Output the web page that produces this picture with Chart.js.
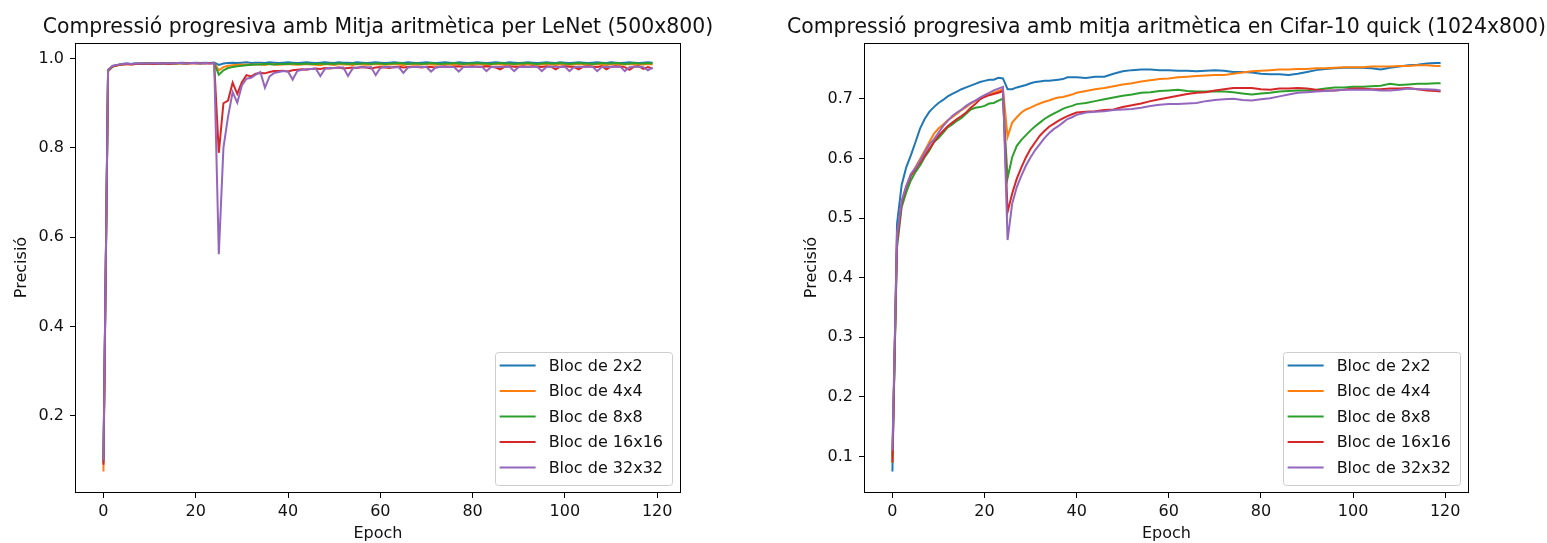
<!DOCTYPE html>
<html>
<head>
<meta charset="utf-8">
<script src="https://cdn.jsdelivr.net/npm/chart.js@4.4.1/dist/chart.umd.min.js"></script>
<style>
  body { margin: 0; background: #fff; }
  #left { position: absolute; left: 0; top: 0; }
  #right { position: absolute; left: 773px; top: 0; }
</style>
</head>
<body>
<canvas id="left" width="773" height="543"></canvas>
<canvas id="right" width="774" height="543"></canvas>
<script>
// series names and colours (matplotlib tab10)
var blockLabels = ['Bloc de 2x2', 'Bloc de 4x4', 'Bloc de 8x8', 'Bloc de 16x16', 'Bloc de 32x32'];
var blockColors = ['#1f77b4', '#ff7f0e', '#2ca02c', '#d62728', '#9467bd'];

var xTicks = [0, 20, 40, 60, 80, 100, 120];
var lenetYTicks = [0.2, 0.4, 0.6, 0.8, 1.0];
var cifarYTicks = [0.1, 0.2, 0.3, 0.4, 0.5, 0.6, 0.7];

// ---- LeNet, one value per epoch 0..119 ----
var lenetEpochs = [];
for (var e = 0; e < 120; e++) lenetEpochs.push(e);

var lenet2x2 = [
  0.095, 0.974, 0.983, 0.986, 0.988, 0.989, 0.988, 0.989, 0.989, 0.990,
  0.989, 0.990, 0.989, 0.990, 0.990, 0.989, 0.990, 0.991, 0.990, 0.990,
  0.991, 0.990, 0.991, 0.990, 0.991, 0.986, 0.989, 0.990, 0.991, 0.990,
  0.991, 0.992, 0.990, 0.991, 0.991, 0.990, 0.992, 0.991, 0.990, 0.991,
  0.992, 0.991, 0.990, 0.991, 0.992, 0.991, 0.990, 0.991, 0.992, 0.991,
  0.990, 0.992, 0.991, 0.991, 0.990, 0.992, 0.991, 0.990, 0.991, 0.992,
  0.991, 0.990, 0.991, 0.992, 0.991, 0.990, 0.992, 0.991, 0.990, 0.991,
  0.992, 0.991, 0.990, 0.991, 0.992, 0.991, 0.990, 0.992, 0.991, 0.990,
  0.991, 0.992, 0.991, 0.990, 0.991, 0.992, 0.991, 0.990, 0.992, 0.991,
  0.990, 0.991, 0.992, 0.991, 0.990, 0.991, 0.992, 0.991, 0.990, 0.992,
  0.991, 0.990, 0.991, 0.992, 0.991, 0.990, 0.991, 0.992, 0.991, 0.990,
  0.992, 0.991, 0.990, 0.991, 0.992, 0.991, 0.990, 0.991, 0.992, 0.991
];
var lenet4x4 = [
  0.075, 0.972, 0.982, 0.985, 0.987, 0.988, 0.987, 0.988, 0.988, 0.989,
  0.988, 0.989, 0.988, 0.989, 0.989, 0.988, 0.989, 0.990, 0.989, 0.989,
  0.990, 0.989, 0.990, 0.989, 0.990, 0.974, 0.981, 0.984, 0.985, 0.986,
  0.986, 0.987, 0.986, 0.987, 0.987, 0.986, 0.988, 0.987, 0.986, 0.987,
  0.988, 0.987, 0.986, 0.987, 0.988, 0.987, 0.986, 0.985, 0.988, 0.987,
  0.986, 0.988, 0.987, 0.987, 0.986, 0.988, 0.987, 0.986, 0.987, 0.988,
  0.987, 0.986, 0.987, 0.988, 0.987, 0.985, 0.988, 0.987, 0.986, 0.987,
  0.988, 0.987, 0.986, 0.987, 0.988, 0.987, 0.986, 0.988, 0.987, 0.986,
  0.987, 0.988, 0.987, 0.985, 0.987, 0.988, 0.987, 0.986, 0.988, 0.987,
  0.986, 0.987, 0.988, 0.987, 0.986, 0.987, 0.988, 0.987, 0.985, 0.988,
  0.987, 0.986, 0.987, 0.988, 0.987, 0.986, 0.987, 0.988, 0.986, 0.985,
  0.988, 0.987, 0.986, 0.987, 0.988, 0.987, 0.986, 0.987, 0.988, 0.987
];
var lenet8x8 = [
  0.100, 0.973, 0.982, 0.985, 0.987, 0.988, 0.988, 0.989, 0.988, 0.989,
  0.989, 0.989, 0.988, 0.989, 0.990, 0.989, 0.989, 0.990, 0.989, 0.990,
  0.990, 0.989, 0.990, 0.990, 0.990, 0.964, 0.974, 0.979, 0.981, 0.983,
  0.984, 0.985, 0.986, 0.987, 0.987, 0.988, 0.988, 0.987, 0.988, 0.988,
  0.988, 0.989, 0.988, 0.988, 0.989, 0.988, 0.988, 0.989, 0.988, 0.989,
  0.988, 0.989, 0.989, 0.988, 0.989, 0.988, 0.989, 0.989, 0.988, 0.989,
  0.989, 0.988, 0.989, 0.989, 0.990, 0.989, 0.988, 0.989, 0.989, 0.988,
  0.989, 0.990, 0.989, 0.988, 0.989, 0.989, 0.990, 0.989, 0.988, 0.989,
  0.989, 0.990, 0.989, 0.989, 0.988, 0.989, 0.990, 0.989, 0.989, 0.988,
  0.989, 0.989, 0.990, 0.989, 0.988, 0.989, 0.990, 0.989, 0.989, 0.990,
  0.989, 0.988, 0.989, 0.990, 0.989, 0.989, 0.988, 0.989, 0.990, 0.989,
  0.989, 0.990, 0.989, 0.988, 0.989, 0.990, 0.989, 0.989, 0.990, 0.989
];
var lenet16x16 = [
  0.090, 0.974, 0.983, 0.985, 0.987, 0.988, 0.987, 0.988, 0.989, 0.988,
  0.989, 0.988, 0.989, 0.989, 0.988, 0.989, 0.990, 0.989, 0.989, 0.990,
  0.989, 0.990, 0.989, 0.990, 0.989, 0.789, 0.900, 0.906, 0.946, 0.921,
  0.947, 0.963, 0.960, 0.966, 0.968, 0.967, 0.970, 0.972, 0.972, 0.973,
  0.971, 0.974, 0.975, 0.976, 0.975, 0.977, 0.978, 0.977, 0.979, 0.978,
  0.979, 0.980, 0.978, 0.979, 0.980, 0.979, 0.981, 0.980, 0.978, 0.980,
  0.981, 0.980, 0.979, 0.981, 0.982, 0.980, 0.981, 0.982, 0.981, 0.980,
  0.982, 0.981, 0.980, 0.982, 0.983, 0.981, 0.982, 0.983, 0.982, 0.981,
  0.983, 0.982, 0.981, 0.983, 0.982, 0.980, 0.976, 0.982, 0.983, 0.982,
  0.981, 0.983, 0.982, 0.983, 0.982, 0.981, 0.983, 0.982, 0.976, 0.982,
  0.983, 0.982, 0.981, 0.976, 0.982, 0.983, 0.982, 0.981, 0.983, 0.976,
  0.982, 0.983, 0.982, 0.981, 0.975, 0.982, 0.983, 0.977, 0.981, 0.978
];
var lenet32x32 = [
  0.100, 0.975, 0.984, 0.986, 0.988, 0.989, 0.988, 0.989, 0.989, 0.989,
  0.989, 0.990, 0.989, 0.989, 0.990, 0.989, 0.990, 0.990, 0.989, 0.990,
  0.990, 0.989, 0.990, 0.989, 0.990, 0.562, 0.800, 0.870, 0.925, 0.901,
  0.940, 0.955, 0.957, 0.964, 0.970, 0.935, 0.960, 0.968, 0.970, 0.972,
  0.971, 0.953, 0.972, 0.975, 0.976, 0.977, 0.978, 0.961, 0.977, 0.979,
  0.979, 0.980, 0.980, 0.961, 0.978, 0.980, 0.981, 0.980, 0.981, 0.963,
  0.979, 0.981, 0.981, 0.980, 0.981, 0.968, 0.980, 0.981, 0.982, 0.981,
  0.981, 0.971, 0.980, 0.982, 0.981, 0.982, 0.981, 0.971, 0.981, 0.982,
  0.981, 0.982, 0.982, 0.972, 0.981, 0.982, 0.981, 0.982, 0.982, 0.972,
  0.981, 0.982, 0.981, 0.982, 0.982, 0.972, 0.981, 0.982, 0.982, 0.981,
  0.982, 0.972, 0.981, 0.982, 0.981, 0.982, 0.982, 0.972, 0.981, 0.982,
  0.981, 0.982, 0.982, 0.972, 0.981, 0.982, 0.982, 0.981, 0.974, 0.980
];

// ---- Cifar-10 quick, read every epoch up to 40, then every 2 ----
var cifarEpochs = [
  0, 1, 2, 3, 4, 5, 6, 7, 8, 9,
  10, 11, 12, 13, 14, 15, 16, 17, 18, 19,
  20, 21, 22, 23, 24, 25, 26, 27, 28, 29,
  30, 31, 32, 33, 34, 35, 36, 37, 38, 39,
  40,
  42, 44, 46, 48, 50, 52, 54, 56, 58, 60,
  62, 64, 66, 68, 70, 72, 74, 76, 78, 80,
  82, 84, 86, 88, 90, 92, 94, 96, 98, 100,
  102, 104, 106, 108, 110, 112, 114, 116, 118,
  119
];
var cifar2x2 = [
  0.075, 0.490, 0.555, 0.585, 0.605, 0.627, 0.650, 0.666, 0.678, 0.686,
  0.693, 0.698, 0.704, 0.708, 0.712, 0.716, 0.719, 0.722, 0.725, 0.728,
  0.730, 0.732, 0.732, 0.735, 0.734, 0.716, 0.716, 0.719, 0.721, 0.723,
  0.726, 0.728, 0.729, 0.730, 0.730, 0.731, 0.732, 0.733, 0.736, 0.736,
  0.736,
  0.735, 0.737, 0.737, 0.742, 0.746, 0.748, 0.749, 0.749, 0.748, 0.748,
  0.747, 0.747, 0.746, 0.747, 0.748, 0.747, 0.745, 0.745, 0.744, 0.742,
  0.741, 0.741, 0.740, 0.742, 0.745, 0.748, 0.750, 0.751, 0.752, 0.752,
  0.752, 0.751, 0.749, 0.752, 0.754, 0.756, 0.757, 0.759, 0.760,
  0.760
];
var cifar4x4 = [
  0.090, 0.470, 0.524, 0.549, 0.571, 0.585, 0.599, 0.613, 0.627, 0.641,
  0.650, 0.657, 0.664, 0.669, 0.675, 0.681, 0.686, 0.692, 0.696, 0.700,
  0.704, 0.707, 0.710, 0.713, 0.716, 0.636, 0.660, 0.669, 0.677, 0.682,
  0.685, 0.689, 0.692, 0.695, 0.697, 0.700, 0.702, 0.703, 0.705, 0.707,
  0.710,
  0.713, 0.716, 0.718, 0.721, 0.724, 0.726, 0.729, 0.731, 0.733, 0.734,
  0.736, 0.737, 0.738, 0.739, 0.740, 0.740, 0.742, 0.744, 0.746, 0.747,
  0.748, 0.749, 0.749, 0.750, 0.750, 0.751, 0.751, 0.752, 0.753, 0.753,
  0.753, 0.754, 0.754, 0.754, 0.755, 0.755, 0.756, 0.756, 0.755,
  0.755
];
var cifar8x8 = [
  0.100, 0.450, 0.518, 0.543, 0.563, 0.577, 0.588, 0.602, 0.613, 0.627,
  0.634, 0.643, 0.652, 0.657, 0.663, 0.668, 0.675, 0.682, 0.685, 0.686,
  0.688, 0.692, 0.693, 0.697, 0.700, 0.567, 0.602, 0.621, 0.631, 0.639,
  0.647, 0.654, 0.660, 0.666, 0.671, 0.675, 0.679, 0.683, 0.686, 0.688,
  0.691,
  0.693, 0.696, 0.699, 0.702, 0.705, 0.707, 0.710, 0.711, 0.713, 0.714,
  0.715, 0.713, 0.712, 0.712, 0.712, 0.712, 0.711, 0.709, 0.707, 0.709,
  0.710, 0.712, 0.713, 0.714, 0.714, 0.715, 0.717, 0.719, 0.719, 0.720,
  0.720, 0.721, 0.722, 0.725, 0.723, 0.724, 0.725, 0.725, 0.726,
  0.726
];
var cifar16x16 = [
  0.090, 0.460, 0.524, 0.552, 0.571, 0.582, 0.593, 0.604, 0.616, 0.627,
  0.638, 0.646, 0.654, 0.660, 0.666, 0.671, 0.677, 0.685, 0.691, 0.699,
  0.703, 0.706, 0.708, 0.710, 0.713, 0.510, 0.541, 0.566, 0.585, 0.602,
  0.616, 0.627, 0.638, 0.646, 0.653, 0.658, 0.663, 0.667, 0.671, 0.674,
  0.677,
  0.678, 0.679, 0.681, 0.682, 0.686, 0.689, 0.692, 0.696, 0.699, 0.702,
  0.705, 0.708, 0.710, 0.711, 0.714, 0.716, 0.718, 0.718, 0.718, 0.716,
  0.715, 0.717, 0.717, 0.718, 0.717, 0.715, 0.714, 0.714, 0.715, 0.717,
  0.717, 0.716, 0.716, 0.717, 0.717, 0.718, 0.716, 0.714, 0.713,
  0.712
];
var cifar32x32 = [
  0.110, 0.470, 0.529, 0.554, 0.574, 0.584, 0.596, 0.610, 0.623, 0.632,
  0.643, 0.654, 0.663, 0.671, 0.677, 0.682, 0.688, 0.693, 0.697, 0.702,
  0.706, 0.710, 0.714, 0.717, 0.720, 0.463, 0.524, 0.552, 0.571, 0.588,
  0.602, 0.614, 0.624, 0.634, 0.642, 0.649, 0.654, 0.660, 0.666, 0.669,
  0.673,
  0.677, 0.678, 0.679, 0.681, 0.682, 0.683, 0.685, 0.688, 0.690, 0.691,
  0.691, 0.692, 0.693, 0.696, 0.698, 0.699, 0.700, 0.698, 0.697, 0.699,
  0.701, 0.704, 0.707, 0.710, 0.711, 0.712, 0.713, 0.714, 0.715, 0.715,
  0.715, 0.715, 0.714, 0.714, 0.715, 0.717, 0.716, 0.716, 0.715,
  0.714
];

var FONT = '"DejaVu Sans", sans-serif';
var TEXT = '#111';

// draws the matplotlib style box, title and legend
var mplLook = {
    id: 'mplLook',
    afterDatasetsDraw: function (chart) {
        var ctx = chart.ctx, a = chart.chartArea;
        ctx.save();
        ctx.strokeStyle = '#000';
        ctx.lineWidth = 1;
        ctx.strokeRect(Math.round(a.left) - 0.5, Math.round(a.top) + 0.5,
            Math.round(a.right - a.left) + 1, Math.round(a.bottom - a.top));
        ctx.restore();
    },
    afterDraw: function (chart, args, opts) {
        var ctx = chart.ctx, a = chart.chartArea;
        ctx.save();
        // title
        ctx.fillStyle = TEXT;
        ctx.font = '20.4px ' + FONT;
        ctx.textAlign = 'center';
        ctx.textBaseline = 'alphabetic';
        ctx.fillText(opts.title, (a.left + a.right) / 2, 32.5);

        // legend, lower right
        ctx.font = '16px ' + FONT;
        var sets = chart.data.datasets;
        var maxW = 0;
        sets.forEach(function (d) { maxW = Math.max(maxW, ctx.measureText(d.label).width); });
        var w = 5 + 36 + 13 + maxW + 9;
        var h = 133;
        var x = a.right - 8 - w;
        var y = a.bottom - 7.5 - h;
        ctx.beginPath();
        ctx.roundRect(Math.round(x) + 0.5, Math.round(y) + 0.5, Math.round(w), Math.round(h), 3);
        ctx.fillStyle = 'rgba(255,255,255,0.8)';
        ctx.fill();
        ctx.strokeStyle = '#cccccc';
        ctx.lineWidth = 1;
        ctx.stroke();
        ctx.textAlign = 'left';
        ctx.textBaseline = 'middle';
        sets.forEach(function (d, i) {
            var cy = y + 14 + i * 25.5;
            ctx.strokeStyle = d.borderColor;
            ctx.lineWidth = 2;
            ctx.beginPath();
            ctx.moveTo(x + 5, cy);
            ctx.lineTo(x + 41, cy);
            ctx.stroke();
            ctx.fillStyle = TEXT;
            ctx.fillText(d.label, x + 54, cy + 1);
        });
        ctx.restore();
    }
};

function makeDatasets(epochs, seriesList) {
    return seriesList.map(function (vals, i) {
        return {
            label: blockLabels[i],
            data: epochs.map(function (ep, k) { return {x: ep, y: vals[k]}; }),
            borderColor: blockColors[i],
            backgroundColor: blockColors[i],
            borderWidth: 2,
            pointRadius: 0,
            tension: 0,
            fill: false,
            order: seriesList.length - i // last series drawn on top, like matplotlib
        };
    });
}

function makeChart(canvasId, opt) {
    return new Chart(document.getElementById(canvasId), {
        type: 'line',
        data: {datasets: makeDatasets(opt.epochs, opt.series)},
        plugins: [mplLook],
        options: {
            responsive: false,
            animation: false,
            devicePixelRatio: 1,
            layout: {padding: {left: 0, right: opt.padRight, top: 43, bottom: 0}},
            plugins: {
                legend: {display: false},
                tooltip: {enabled: false},
                title: {display: false},
                mplLook: {title: opt.title}
            },
            scales: {
                x: {
                    type: 'linear',
                    min: -5.95,
                    max: 124.95,
                    afterBuildTicks: function (axis) {
                        axis.ticks = xTicks.map(function (v) { return {value: v}; });
                    },
                    afterFit: function (axis) { axis.height = 51; },
                    border: {display: false},
                    grid: {drawOnChartArea: false, drawTicks: true, tickLength: 6, color: '#000', lineWidth: 1},
                    ticks: {
                        autoSkip: false, maxRotation: 0, padding: 4,
                        color: TEXT, font: {family: FONT, size: 16},
                        callback: function (v) { return String(v); }
                    },
                    title: {display: true, text: 'Epoch', color: TEXT, font: {family: FONT, size: 16}, padding: {top: 0, bottom: 0}}
                },
                y: {
                    type: 'linear',
                    min: opt.yMin,
                    max: opt.yMax,
                    afterBuildTicks: function (axis) {
                        axis.ticks = opt.yTicks.map(function (v) { return {value: v}; });
                    },
                    afterFit: function (axis) { axis.width = opt.yWidth; },
                    border: {display: false},
                    grid: {drawOnChartArea: false, drawTicks: true, tickLength: 6, color: '#000', lineWidth: 1},
                    ticks: {
                        padding: 6,
                        color: TEXT, font: {family: FONT, size: 16},
                        callback: function (v) { return v.toFixed(1); }
                    },
                    title: {display: true, text: 'Precisió', color: TEXT, font: {family: FONT, size: 16}, padding: {top: opt.yTitlePad, bottom: 0}}
                }
            }
        }
    });
}

makeChart('left', {
    epochs: lenetEpochs,
    series: [lenet2x2, lenet4x4, lenet8x8, lenet16x16, lenet32x32],
    title: 'Compressió progresiva amb Mitja aritmètica per LeNet (500x800)',
    yMin: 0.029, yMax: 1.035, yTicks: lenetYTicks,
    yWidth: 76, padRight: 93, yTitlePad: 12
});

makeChart('right', {
    epochs: cifarEpochs,
    series: [cifar2x2, cifar4x4, cifar8x8, cifar16x16, cifar32x32],
    title: 'Compressió progresiva amb mitja aritmètica en Cifar-10 quick (1024x800)',
    yMin: 0.0405, yMax: 0.7935, yTicks: cifarYTicks,
    yWidth: 92, padRight: 79, yTitlePad: 29.5
});
</script>
</body>
</html>
